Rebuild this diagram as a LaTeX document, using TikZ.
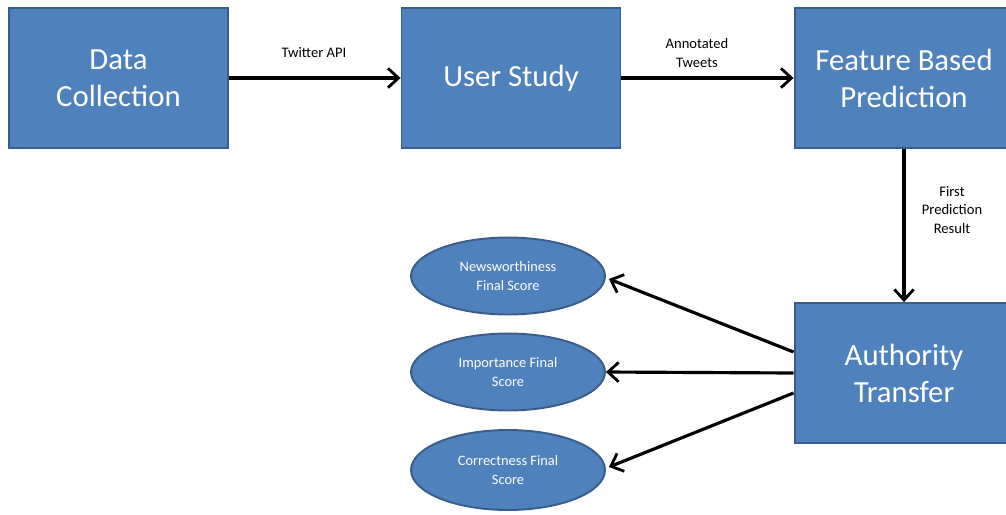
\documentclass[tikz,border=0pt]{standalone}
\usepackage{fontspec}
\setmainfont{Carlito}
\usetikzlibrary{arrows.meta,shapes.geometric,calc}
\definecolor{boxfill}{HTML}{4F81BD}
\definecolor{boxline}{HTML}{385D8A}
\tikzset{
  px/.style={x=0.02cm,y=-0.02cm},
  bigbox/.style={draw=boxline,line width=1.1pt,fill=boxfill,text=white,
    minimum width=4.38cm,minimum height=2.8cm,inner sep=0pt,align=center,
    font=\fontsize{17.5}{21}\selectfont},
  oval/.style={ellipse,draw=boxline,line width=1.1pt,fill=boxfill,text=white,
    minimum width=3.88cm,minimum height=1.54cm,inner sep=0pt,align=center,
    font=\fontsize{8.2}{10.5}\selectfont},
  conn/.style={line width=1.8pt,-{Straight Barb[length=6pt,width=11pt,line width=1.6pt]}},
  lbl/.style={font=\fontsize{8.3}{10.5}\selectfont,align=center,text=black}
}
\begin{document}
\begin{tikzpicture}[px]
\useasboundingbox (0,0) rectangle (1006,514);
\clip (0,0) rectangle (1006,514);
\node[bigbox] (dc) at (118.5,78) {Data\\Collection};
\node[bigbox] (us) at (511,78) {User Study};
\node[bigbox] (fb) at (904,78) {Feature Based\\Prediction};
\node[bigbox] (at) at (904,373) {Authority\\Transfer};
\node[oval] (nw) at (508,276) {Newsworthiness\\Final Score};
\node[oval] (im) at (508,372) {Importance Final\\Score};
\node[oval,minimum height=1.6cm] (co) at (508,470) {Correctness Final\\Score};
\coordinate (a1) at ($(at.west)+(0,-21)$);
\coordinate (a3) at ($(at.west)+(0,20)$);
\coordinate (t1) at ($(nw.east)+(3,3)$);
\coordinate (t3) at ($(co.east)+(3,-3)$);
\draw[conn] (dc.east) -- (us.west);
\draw[conn] (us.east) -- (fb.west);
\draw[conn] (fb.south) -- (at.north);
\draw[conn] (a1) -- (t1);
\draw[conn] (at.west) -- (im.east);
\draw[conn] (a3) -- (t3);
\node[lbl] (l1) at (314,53) {Twitter API};
\node[lbl] (l2) at (697,53) {Annotated\\Tweets};
\node[lbl] (l3) at (952,210) {First\\Prediction\\Result};
\end{tikzpicture}
\end{document}
